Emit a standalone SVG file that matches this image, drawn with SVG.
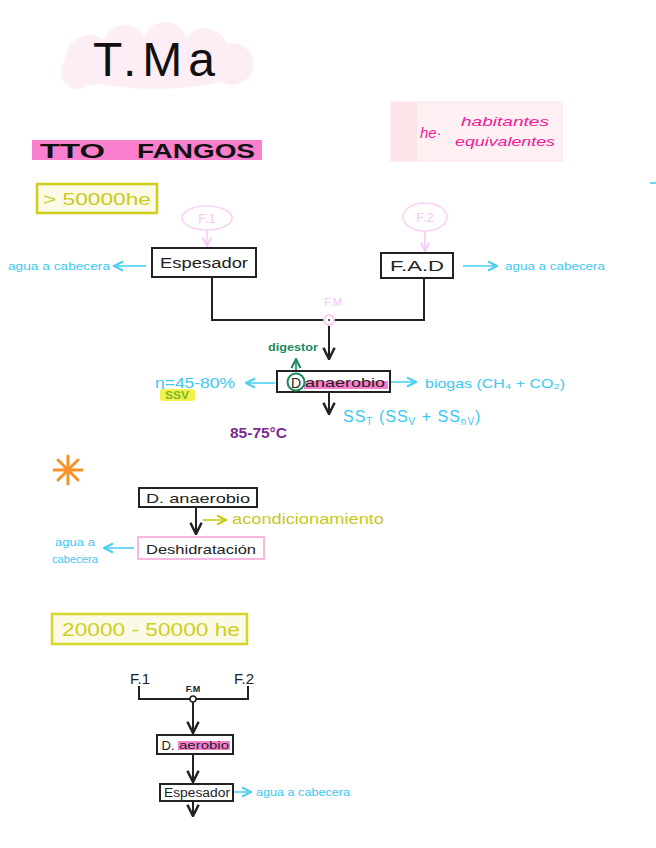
<svg xmlns="http://www.w3.org/2000/svg" width="656" height="848" viewBox="0 0 656 848">
<style>
text{font-family:"Liberation Sans",Arial,sans-serif}
.box{fill:#fff;stroke:#222;stroke-width:2}
.blk{fill:#222;font-size:14px}
.cy{fill:#3cc8f0}
.ln{fill:none;stroke:#222;stroke-width:2}
.lc{fill:none;stroke:#4cd0f2;stroke-width:1.6}
.pk{fill:#f6c6f4}
</style>
<defs>
<marker id="ab" viewBox="0 0 10 10" refX="9" refY="5" markerWidth="7" markerHeight="7" orient="auto"><path d="M1,1 L9,5 L1,9" fill="none" stroke="#222" stroke-width="1.8"/></marker>
<marker id="ac" viewBox="0 0 10 10" refX="9" refY="5" markerWidth="7" markerHeight="7" orient="auto"><path d="M1,1 L9,5 L1,9" fill="none" stroke="#4cd0f2" stroke-width="1.8"/></marker>
<marker id="ag" viewBox="0 0 10 10" refX="9" refY="5" markerWidth="7" markerHeight="7" orient="auto"><path d="M1,1 L9,5 L1,9" fill="none" stroke="#1b8a5e" stroke-width="1.8"/></marker>
<marker id="ay" viewBox="0 0 10 10" refX="9" refY="5" markerWidth="7" markerHeight="7" orient="auto"><path d="M1,1 L9,5 L1,9" fill="none" stroke="#c8c81e" stroke-width="1.8"/></marker>
<marker id="ap" viewBox="0 0 10 10" refX="9" refY="5" markerWidth="7" markerHeight="7" orient="auto"><path d="M1,1 L9,5 L1,9" fill="none" stroke="#f6c6f4" stroke-width="1.8"/></marker>
</defs>

<g id="title">
<g fill="#fdeef5">
<ellipse cx="155" cy="64" rx="92" ry="25"/>
<circle cx="90" cy="60" r="25"/>
<circle cx="125" cy="47" r="22"/>
<circle cx="165" cy="44" r="22"/>
<circle cx="205" cy="50" r="22"/>
<circle cx="232" cy="64" r="21"/>
<circle cx="78" cy="72" r="17"/>
</g>
<text x="93" y="76" font-size="48" textLength="122" lengthAdjust="spacing" fill="#111">T.Ma</text>
</g>

<g id="tto-fangos">
<rect x="32" y="140" width="230" height="20" fill="#fb7fcf"/>
<text y="158" font-size="20" font-weight="bold" fill="#111"><tspan x="40" textLength="65" lengthAdjust="spacingAndGlyphs">TTO</tspan><tspan x="137" textLength="118" lengthAdjust="spacingAndGlyphs">FANGOS</tspan></text>
</g>

<g id="he-note">
<rect x="391" y="102" width="171" height="59" fill="#fff1f3" stroke="#fbe3e8"/>
<rect x="391" y="102" width="26" height="59" fill="#fde2e7"/>
<text x="420" y="138" font-size="15" font-style="italic" fill="#f0189a">he·</text>
<text x="461" y="126" font-size="13" font-style="italic" textLength="88" lengthAdjust="spacingAndGlyphs" fill="#f0189a">habitantes</text>
<text x="455" y="146" font-size="13" font-style="italic" textLength="100" lengthAdjust="spacingAndGlyphs" fill="#f0189a">equivalentes</text>
</g>
<path d="M650,183 h6" stroke="#4cd0f2" stroke-width="1.6"/>

<g id="he-50000">
<rect x="37" y="184" width="120" height="29" fill="#fafae6" stroke="#cfcf1a" stroke-width="2.5"/>
<text x="43" y="205" font-size="17" textLength="108" lengthAdjust="spacingAndGlyphs" fill="#c9c91e">&gt; 50000he</text>
</g>

<g id="connectors">
<path class="ln" d="M212,277 V320 H424 V278"/>
<path d="M207,229 V246" fill="none" stroke="#f6c6f4" stroke-width="1.5" marker-end="url(#ap)"/>
<path d="M425,231 V251" fill="none" stroke="#f6c6f4" stroke-width="1.5" marker-end="url(#ap)"/>
<path class="lc" d="M146,266 H114" marker-end="url(#ac)"/>
<path class="lc" d="M463,266 H497" marker-end="url(#ac)"/>
<path class="ln" d="M329,326 V359" marker-end="url(#ab)"/>
<path d="M296,374 V359" fill="none" stroke="#1b8a5e" stroke-width="1.6" marker-end="url(#ag)"/>
<path class="lc" d="M391,382 H416" marker-end="url(#ac)"/>
<path class="lc" d="M275,383 H246" marker-end="url(#ac)"/>
<path class="ln" d="M329,392 V414" marker-end="url(#ab)"/>
<path class="ln" d="M196,507 V534" marker-end="url(#ab)"/>
<path d="M203,520 H226" fill="none" stroke="#c8c81e" stroke-width="1.6" marker-end="url(#ay)"/>
<path class="lc" d="M134,548 H104" marker-end="url(#ac)"/>
<path class="ln" d="M139,686 V699 H248 V686"/>
<path class="ln" d="M193,702 V733" marker-end="url(#ab)"/>
<path class="ln" d="M193,755 V782" marker-end="url(#ab)"/>
<path class="lc" d="M233,792 H251" marker-end="url(#ac)"/>
<path class="ln" d="M193,801 V816" marker-end="url(#ab)"/>
</g>

<g id="f1">
<ellipse cx="207" cy="218" rx="25" ry="12" fill="none" stroke="#f8d2f6" stroke-width="1.5"/>
<text x="207" y="223" font-size="13" text-anchor="middle" class="pk">F.1</text>
</g>
<g id="f2">
<ellipse cx="425" cy="217" rx="22" ry="14" fill="none" stroke="#f8d2f6" stroke-width="1.5"/>
<text x="425" y="222" font-size="13" text-anchor="middle" class="pk">F.2</text>
</g>

<g id="espesador">
<rect class="box" x="152" y="248" width="104" height="29"/>
<text class="blk" x="160" y="268" textLength="88" lengthAdjust="spacingAndGlyphs">Espesador</text>
</g>
<text x="8" y="270" font-size="11" textLength="102" lengthAdjust="spacingAndGlyphs" class="cy">agua a cabecera</text>

<g id="fad">
<rect class="box" x="381" y="253" width="72" height="25"/>
<text class="blk" x="390" y="271" textLength="54" lengthAdjust="spacingAndGlyphs">F.A.D</text>
</g>
<text x="505" y="270" font-size="11" textLength="100" lengthAdjust="spacingAndGlyphs" class="cy">agua a cabecera</text>

<g id="fm">
<circle cx="329" cy="320" r="5" fill="#fff" stroke="#f6c6f4" stroke-width="2"/>
<circle cx="329" cy="320" r="1" fill="#222"/>
<text x="333" y="306" font-size="11" text-anchor="middle" class="pk">F.M</text>
</g>

<g id="d-anaerobio">
<rect class="box" x="277" y="371" width="113" height="21"/>
<rect x="304" y="381" width="84" height="8" fill="#f57fd0"/>
<text x="296" y="388" font-size="14" fill="#222" text-anchor="middle">D</text>
<text x="305" y="387" font-size="12" fill="#222" textLength="80" lengthAdjust="spacingAndGlyphs">anaerobio</text>
<circle cx="296" cy="382" r="8.5" fill="none" stroke="#1b8a5e" stroke-width="2"/>
</g>
<text x="268" y="351" font-size="10" font-weight="bold" textLength="50" lengthAdjust="spacingAndGlyphs" fill="#1b8a5e">digestor</text>
<text x="425" y="388" font-size="13" textLength="140" lengthAdjust="spacingAndGlyphs" class="cy">biogas (CH₄ + CO₂)</text>
<text x="155" y="388" font-size="14" textLength="80" lengthAdjust="spacingAndGlyphs" class="cy">η=45-80%</text>
<rect x="160" y="389" width="35" height="12" rx="3" fill="#f2f24a"/>
<text x="165" y="399" font-size="10" font-weight="bold" textLength="24" lengthAdjust="spacingAndGlyphs" fill="#7ab82a">SSV</text>
<text x="343" y="422" font-size="16" letter-spacing="1" class="cy">SS<tspan font-size="10" dy="3">T</tspan><tspan dy="-3"> (SS</tspan><tspan font-size="10" dy="3">V</tspan><tspan dy="-3"> + SS</tspan><tspan font-size="10" dy="3">nV</tspan><tspan dy="-3">)</tspan></text>
<text x="230" y="438" font-size="14" font-weight="bold" textLength="57" lengthAdjust="spacingAndGlyphs" fill="#7b2a8e">85-75°C</text>

<g id="asterisk" stroke="#f7922a" stroke-width="3" stroke-linecap="round">
<path d="M68,456 V484 M54,470 H82 M58,460 L78,480 M78,460 L58,480"/>
</g>

<g id="d-anaerobio-2">
<rect class="box" x="139" y="488" width="118" height="19"/>
<text x="146" y="503" font-size="13" fill="#222" textLength="104" lengthAdjust="spacingAndGlyphs">D. anaerobio</text>
</g>
<text x="232" y="524" font-size="14" textLength="152" lengthAdjust="spacingAndGlyphs" fill="#c8c81e">acondicionamiento</text>

<g id="deshidratacion">
<rect x="138" y="537" width="126" height="22" fill="#fff" stroke="#f6b8e0" stroke-width="2"/>
<text x="146" y="554" font-size="13" fill="#222" textLength="110" lengthAdjust="spacingAndGlyphs">Deshidratación</text>
</g>
<text x="55" y="546" font-size="10" textLength="40" lengthAdjust="spacingAndGlyphs" class="cy">agua a</text>
<text x="52" y="563" font-size="10" textLength="46" lengthAdjust="spacingAndGlyphs" class="cy">cabecera</text>

<g id="he-20000">
<rect x="52" y="614" width="195" height="30" fill="#fafae6" stroke="#d6d62a" stroke-width="2.5"/>
<text x="62" y="636" font-size="18" textLength="178" lengthAdjust="spacingAndGlyphs" fill="#cfcf1e">20000 - 50000 he</text>
</g>

<g id="f1-b"><text x="130" y="684" font-size="15" fill="#222">F.1</text></g>
<g id="f2-b"><text x="234" y="684" font-size="15" fill="#222">F.2</text></g>
<g id="fm-b">
<circle cx="193" cy="699" r="3" fill="#fff" stroke="#222" stroke-width="1.5"/>
<text x="193" y="692" font-size="9" font-weight="bold" fill="#222" text-anchor="middle">F.M</text>
</g>

<g id="d-aerobio">
<rect class="box" x="157" y="735" width="76" height="19"/>
<rect x="178" y="741" width="52" height="9" fill="#f57fd0"/>
<text x="168" y="750" font-size="13" fill="#222" text-anchor="middle">D.</text>
<text x="179" y="749" font-size="11" fill="#222" textLength="50" lengthAdjust="spacingAndGlyphs">aerobio</text>
</g>

<g id="espesador-2">
<rect class="box" x="160" y="784" width="73" height="17"/>
<text x="164" y="797" font-size="12" fill="#222" textLength="66" lengthAdjust="spacingAndGlyphs">Espesador</text>
</g>
<text x="256" y="796" font-size="10" textLength="94" lengthAdjust="spacingAndGlyphs" class="cy">agua a cabecera</text>
</svg>
